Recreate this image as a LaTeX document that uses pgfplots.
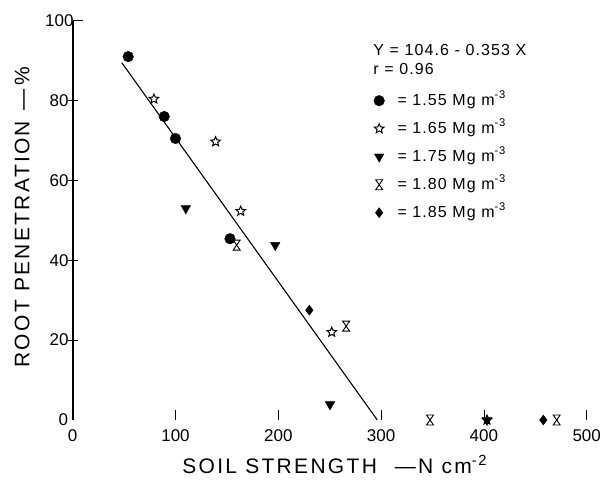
\documentclass[border=0pt]{standalone}
\usepackage{fontspec}
\setmainfont{Liberation Sans}
\newfontfamily\lblfont[LetterSpace=11]{Liberation Sans}
\newfontfamily\legfont[LetterSpace=7]{Liberation Sans}
\usepackage{pgfplots}
\pgfplotsset{compat=1.18}

% open five-pointed star
\pgfdeclareplotmark{ostar}{%
  \pgfpathmoveto{\pgfpointpolar{90}{\pgfplotmarksize}}%
  \pgfpathlineto{\pgfpointpolar{126}{0.45\pgfplotmarksize}}%
  \pgfpathlineto{\pgfpointpolar{162}{\pgfplotmarksize}}%
  \pgfpathlineto{\pgfpointpolar{198}{0.45\pgfplotmarksize}}%
  \pgfpathlineto{\pgfpointpolar{234}{\pgfplotmarksize}}%
  \pgfpathlineto{\pgfpointpolar{270}{0.45\pgfplotmarksize}}%
  \pgfpathlineto{\pgfpointpolar{306}{\pgfplotmarksize}}%
  \pgfpathlineto{\pgfpointpolar{342}{0.45\pgfplotmarksize}}%
  \pgfpathlineto{\pgfpointpolar{18}{\pgfplotmarksize}}%
  \pgfpathlineto{\pgfpointpolar{54}{0.45\pgfplotmarksize}}%
  \pgfpathclose
  \pgfusepathqstroke
}
% open hourglass
\pgfdeclareplotmark{hglass}{%
  \pgfpathmoveto{\pgfqpoint{-0.7\pgfplotmarksize}{\pgfplotmarksize}}%
  \pgfpathlineto{\pgfqpoint{0.7\pgfplotmarksize}{\pgfplotmarksize}}%
  \pgfpathlineto{\pgfqpoint{-0.7\pgfplotmarksize}{-\pgfplotmarksize}}%
  \pgfpathlineto{\pgfqpoint{0.7\pgfplotmarksize}{-\pgfplotmarksize}}%
  \pgfpathclose
  \pgfusepathqstroke
}
\newcommand{\lgap}{\hbox to 12pt{}}

\begin{document}
\begin{tikzpicture}
\begin{axis}[
  scale only axis, width=514pt, height=399.3pt,
  xmin=0, xmax=500, ymin=0, ymax=100,
  axis lines*=left,
  x axis line style={draw=none},
  y axis line style={line width=2.2pt},
  xtick={0,100,...,500},
  ytick={20,40,60,80},
  extra y ticks={100},
  extra y tick style={ytick align=inside},
  xtick align=inside, ytick align=center,
  major tick length=10pt,
  tick style={black, line width=0.8pt},
  ticklabel style={font=\fontsize{17}{20}\selectfont, inner sep=0pt},
  xticklabel style={yshift=-9pt},
  yticklabel style={xshift=1pt},
  /pgf/number format/assume math mode=true,
  clip=false,
  xlabel={SOIL STRENGTH\hspace{18pt}—N cm\textsuperscript{-2}},
  ylabel={ROOT PENETRATION\hspace{10pt}—\hspace{4pt}\%},
  label style={font=\lblfont\fontsize{21}{25}\selectfont, inner sep=0pt},
  xlabel style={at={(rel axis cs:0.5,0)}, anchor=base, yshift=-53.3pt, xshift=5pt},
  ylabel style={at={(rel axis cs:0,0.5)}, anchor=base, yshift=43.4pt, xshift=3pt},
  legend style={at={(0.5856,0.8214)}, anchor=north west, draw=none, fill=none,
    inner sep=0pt, row sep=11pt,
    font=\legfont\fontsize{16}{19}\selectfont,
    nodes={inner sep=1pt, text height=12pt, text depth=3pt}},
  legend cell align=left,
]
\addplot[black, line width=1.1pt, forget plot] coordinates {(47.7,89.5) (296.3,0)};
\addplot[only marks, mark=*, mark size=5.3pt, black] coordinates {
  (54,91) (89,76) (100,70.5) (153,45.4)};
\addlegendentry{\lgap= 1.55 Mg m\textsuperscript{-3}}
\addplot[only marks, mark=ostar, mark size=5pt, black, mark options={line width=1pt}] coordinates {
  (79,80.4) (139,69.7) (163.4,52.3) (252,22) (403,0)};
\addlegendentry{\lgap= 1.65 Mg m\textsuperscript{-3}}
\addplot[only marks, mark=triangle*, mark size=5.5pt, black, mark options={rotate=180}] coordinates {
  (110,53) (197,43.8) (250.3,3.9) (403,0)};
\addlegendentry{\lgap= 1.75 Mg m\textsuperscript{-3}}
\addplot[only marks, mark=hglass, mark size=5pt, black, mark options={line width=0.9pt}] coordinates {
  (159.5,43.8) (266,23.5) (347.6,0) (470.8,0)};
\addlegendentry{\lgap= 1.80 Mg m\textsuperscript{-3}}
\addplot[only marks, mark=diamond*, mark size=5pt, black] coordinates {
  (230.2,27.5) (457.8,0)};
\addlegendentry{\lgap= 1.85 Mg m\textsuperscript{-3}}
\node[anchor=east, font=\fontsize{17}{20}\selectfont, inner sep=0pt] at (axis cs:0,0) [xshift=-4.5pt] {0};
\node[anchor=base west, font=\legfont\fontsize{16}{19}\selectfont, inner sep=0pt] at (rel axis cs:0.5848,0.9116) {Y = 104.6 - 0.353 X};
\node[anchor=base west, font=\legfont\fontsize{16}{19}\selectfont, inner sep=0pt] at (rel axis cs:0.5848,0.8665) {r = 0.96};
\end{axis}
\pgfresetboundingbox
\path (-72.7pt,-60pt) rectangle (529.3pt,420pt);
\end{tikzpicture}
\end{document}
